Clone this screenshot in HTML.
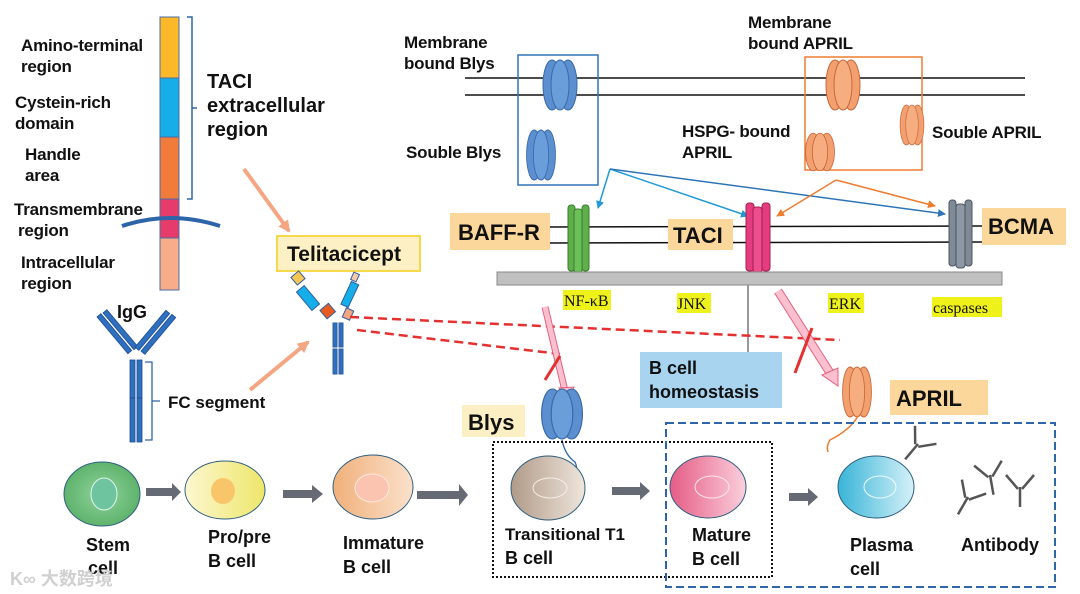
<!DOCTYPE html>
<html><head><meta charset="utf-8"><style>
body{margin:0;background:#fff}
svg{display:block}
text{font-family:"Liberation Sans",Arial,sans-serif;font-weight:bold;fill:#111}
.s{font-family:"Liberation Serif",serif;font-weight:normal}
</style></head><body>
<svg width="1080" height="594" viewBox="0 0 1080 594" xmlns="http://www.w3.org/2000/svg">
<defs>
<marker id="ab" markerWidth="8" markerHeight="8" refX="7" refY="4" orient="auto" markerUnits="userSpaceOnUse"><path d="M0,0 L8,4 L0,8 z" fill="#2e75b6"/></marker>
<marker id="ac" markerWidth="8" markerHeight="8" refX="7" refY="4" orient="auto" markerUnits="userSpaceOnUse"><path d="M0,0 L8,4 L0,8 z" fill="#1f9ad6"/></marker>
<marker id="ao" markerWidth="8" markerHeight="8" refX="7" refY="4" orient="auto" markerUnits="userSpaceOnUse"><path d="M0,0 L8,4 L0,8 z" fill="#ed7d31"/></marker>
<marker id="as" markerWidth="12" markerHeight="12" refX="10" refY="6" orient="auto" markerUnits="userSpaceOnUse"><path d="M0,0 L12,6 L0,12 z" fill="#f4a582"/></marker>
<radialGradient id="g1"><stop offset="0" stop-color="#8fd39c"/><stop offset="1" stop-color="#5fb36c"/></radialGradient>
<linearGradient id="g2"><stop offset="0" stop-color="#fdf7d0"/><stop offset="1" stop-color="#eee66a"/></linearGradient>
<linearGradient id="g3"><stop offset="0" stop-color="#f0b07a"/><stop offset="1" stop-color="#fbe1cc"/></linearGradient>
<linearGradient id="g4"><stop offset="0" stop-color="#b09a88"/><stop offset="1" stop-color="#efe6dc"/></linearGradient>
<linearGradient id="g5"><stop offset="0" stop-color="#e65c86"/><stop offset="1" stop-color="#fad0dc"/></linearGradient>
<linearGradient id="g6"><stop offset="0" stop-color="#38b5d8"/><stop offset="1" stop-color="#d6f1f8"/></linearGradient>
<g id="tb"><ellipse cx="-8" cy="0" rx="9" ry="25" fill="#5b8fd0" stroke="#3a6aa8"/><ellipse cx="8" cy="0" rx="9" ry="25" fill="#5b8fd0" stroke="#3a6aa8"/><ellipse cx="0" cy="0" rx="9" ry="25" fill="#6a9edb" stroke="#3a6aa8"/></g>
<g id="to"><ellipse cx="-8" cy="0" rx="9" ry="25" fill="#f3a070" stroke="#c8683a"/><ellipse cx="8" cy="0" rx="9" ry="25" fill="#f3a070" stroke="#c8683a"/><ellipse cx="0" cy="0" rx="9" ry="25" fill="#f6ad80" stroke="#c8683a"/></g>
<g id="ab1" fill="none" stroke="#555" stroke-width="2.5"><path d="M0,20 L0,0 M-2,2 L-14,-12 M2,2 L14,-12"/></g>
</defs>

<!-- TACI bar -->
<rect x="160" y="17" width="19" height="61" fill="#fbb829" stroke="#4a6fa5" stroke-width="1"/>
<rect x="160" y="78" width="19" height="59" fill="#15aee8" stroke="#4a6fa5" stroke-width="1"/>
<rect x="160" y="137" width="19" height="62" fill="#f07b3a" stroke="#4a6fa5" stroke-width="1"/>
<rect x="160" y="199" width="19" height="39" fill="#e53c6c" stroke="#4a6fa5" stroke-width="1"/>
<rect x="160" y="238" width="19" height="52" fill="#f7ad89" stroke="#4a6fa5" stroke-width="1"/>
<path d="M122,226 Q170,210 220,226" stroke="#2e65a8" stroke-width="4" fill="none"/>
<path d="M187,17 L192,17 L192,199 L187,199 M192,108 L197,108" stroke="#2e65a8" stroke-width="1.5" fill="none"/>
<text font-size="17" letter-spacing="-0.2"><tspan x="21" y="51">Amino-terminal</tspan><tspan x="21" y="72">region</tspan>
<tspan x="15" y="108">Cystein-rich</tspan><tspan x="15" y="129">domain</tspan>
<tspan x="25" y="160">Handle</tspan><tspan x="25" y="181">area</tspan>
<tspan x="14" y="215">Transmembrane</tspan><tspan x="18" y="236">region</tspan>
<tspan x="21" y="268">Intracellular</tspan><tspan x="21" y="289">region</tspan></text>
<text font-size="20"><tspan x="207" y="88">TACI</tspan><tspan x="207" y="112">extracellular</tspan><tspan x="207" y="136">region</tspan></text>

<!-- arrows to telitacicept -->
<line x1="244" y1="169" x2="289" y2="231" stroke="#f4a582" stroke-width="4" marker-end="url(#as)"/>
<line x1="250" y1="390" x2="308" y2="342" stroke="#f4a582" stroke-width="4" marker-end="url(#as)"/>
<rect x="277" y="236" width="143" height="35" fill="#fdf0c4" stroke="#f5d94a" stroke-width="2"/>
<text x="287" y="261" font-size="21">Telitacicept</text>

<!-- Telitacicept molecule -->
<g stroke="#2e5fa0" stroke-width="1">
<rect x="293" y="273" width="10" height="10" fill="#f6c555" transform="rotate(-40 298 278)"/>
<rect x="303" y="286" width="10" height="24" fill="#15aee8" transform="rotate(-40 308 298)"/>
<rect x="322" y="306" width="11" height="11" fill="#e85a20" transform="rotate(-40 327 311)"/>
<rect x="346" y="282" width="8" height="25" fill="#15aee8" transform="rotate(25 350 294)"/>
<rect x="344" y="309" width="8" height="10" fill="#f4a582" transform="rotate(25 348 314)"/>
<rect x="352" y="273" width="6" height="8" fill="#f8c8aa" transform="rotate(25 355 277)"/>
<rect x="333" y="323" width="4" height="24" fill="#2e6fc0"/><rect x="339" y="323" width="4" height="24" fill="#2e6fc0"/>
<rect x="333" y="349" width="4" height="25" fill="#2e6fc0"/><rect x="339" y="349" width="4" height="25" fill="#2e6fc0"/>
</g>

<!-- IgG -->
<g fill="#2e6fc0" stroke="#1d4d90" stroke-width="0.8">
<rect x="130" y="360" width="5" height="38" /><rect x="137" y="360" width="5" height="38"/>
<rect x="130" y="398" width="5" height="44"/><rect x="137" y="398" width="5" height="44"/>
<rect x="112" y="310" width="5" height="48" transform="rotate(-40 114 334)"/>
<rect x="118" y="306" width="5" height="48" transform="rotate(-40 120 330)"/>
<rect x="150" y="306" width="5" height="48" transform="rotate(40 152 330)"/>
<rect x="156" y="310" width="5" height="48" transform="rotate(40 158 334)"/>
</g>
<path d="M145,362 L152,362 L152,440 L145,440 M152,401 L160,401" stroke="#2e65a8" stroke-width="1.3" fill="none"/>
<text x="117" y="318" font-size="18">IgG</text>
<text x="168" y="408" font-size="17">FC segment</text>

<!-- top membrane -->
<line x1="465" y1="78" x2="1025" y2="78" stroke="#111" stroke-width="1.5"/>
<line x1="465" y1="95" x2="1025" y2="95" stroke="#111" stroke-width="1.5"/>
<rect x="518" y="55" width="80" height="130" fill="none" stroke="#2e75b6" stroke-width="1.5"/>
<use href="#tb" x="560" y="85"/>
<use href="#tb" transform="translate(541 155) scale(0.85 1)"/>
<rect x="805" y="57" width="117" height="113" fill="none" stroke="#ed7d31" stroke-width="1.5"/>
<use href="#to" x="843" y="85"/>
<use href="#to" transform="translate(820 152) scale(0.85 0.75)"/>
<use href="#to" transform="translate(912 125) scale(0.7 0.8)"/>
<text font-size="17" letter-spacing="-0.2"><tspan x="404" y="48">Membrane</tspan><tspan x="404" y="69">bound Blys</tspan>
<tspan x="406" y="158">Souble Blys</tspan>
<tspan x="748" y="28">Membrane</tspan><tspan x="748" y="49">bound APRIL</tspan>
<tspan x="682" y="137">HSPG- bound</tspan><tspan x="682" y="158">APRIL</tspan>
<tspan x="932" y="138">Souble APRIL</tspan></text>

<!-- ligand arrows -->
<line x1="610" y1="169" x2="598" y2="208" stroke="#1f9ad6" stroke-width="1.5" marker-end="url(#ac)"/>
<line x1="610" y1="169" x2="748" y2="216" stroke="#1f9ad6" stroke-width="1.5" marker-end="url(#ac)"/>
<line x1="610" y1="169" x2="945" y2="214" stroke="#2e75b6" stroke-width="1.5" marker-end="url(#ab)"/>
<line x1="836" y1="180" x2="777" y2="216" stroke="#ed7d31" stroke-width="1.5" marker-end="url(#ao)"/>
<line x1="836" y1="180" x2="935" y2="206" stroke="#ed7d31" stroke-width="1.5" marker-end="url(#ao)"/>

<!-- lower membrane -->
<line x1="550" y1="227" x2="985" y2="226" stroke="#111" stroke-width="1.5"/>
<line x1="550" y1="243" x2="985" y2="242" stroke="#111" stroke-width="1.5"/>
<rect x="450" y="213" width="100" height="37" fill="#fcd79b"/>
<text x="458" y="240" font-size="22">BAFF-R</text>
<rect x="668" y="219" width="65" height="31" fill="#fcd79b"/>
<text x="673" y="243" font-size="22">TACI</text>
<rect x="982" y="208" width="84" height="37" fill="#fcd79b"/>
<text x="988" y="234" font-size="22">BCMA</text>
<g stroke="#3a7a30" stroke-width="1" fill="#5fb04a"><rect x="568" y="205" width="7" height="66" rx="3"/><rect x="582" y="205" width="7" height="66" rx="3"/><rect x="574" y="209" width="8" height="64" rx="3" fill="#6cc058"/></g>
<g stroke="#a02050" stroke-width="1" fill="#e53c80"><rect x="746" y="203" width="8" height="68" rx="3"/><rect x="762" y="203" width="8" height="68" rx="3"/><rect x="753" y="207" width="9" height="66" rx="3" fill="#ee4d8e"/></g>
<g stroke="#4a5560" stroke-width="1" fill="#808a96"><rect x="949" y="200" width="7" height="66" rx="3"/><rect x="965" y="200" width="7" height="66" rx="3"/><rect x="956" y="204" width="9" height="64" rx="3" fill="#8e98a4"/></g>
<path d="M497,272 L1002,272 L1002,285 L497,285 Z" fill="#c0c0c0" stroke="#888"/>
<line x1="748" y1="285" x2="748" y2="352" stroke="#999" stroke-width="2"/>
<rect x="563" y="290" width="48" height="20" fill="#eef21a"/><text class="s" x="564" y="306" font-size="16">NF-κB</text>
<rect x="677" y="293" width="34" height="20" fill="#eef21a"/><text class="s" x="677" y="309" font-size="16">JNK</text>
<rect x="828" y="293" width="36" height="20" fill="#eef21a"/><text class="s" x="829" y="309" font-size="16">ERK</text>
<rect x="932" y="297" width="70" height="20" fill="#eef21a"/><text class="s" x="933" y="313" font-size="16">caspases</text>
<rect x="640" y="352" width="142" height="56" fill="#a9d4f0"/>
<text font-size="18"><tspan x="649" y="374">B cell</tspan><tspan x="649" y="398">homeostasis</tspan></text>

<!-- dashed red -->
<line x1="350" y1="317" x2="840" y2="340" stroke="#e53030" stroke-width="2.5" stroke-dasharray="9,5"/>
<line x1="357" y1="330" x2="560" y2="354" stroke="#e53030" stroke-width="2.5" stroke-dasharray="9,5"/>
<!-- pink arrows -->
<line x1="545" y1="307" x2="566" y2="395" stroke="#e8607e" stroke-width="7"/>
<line x1="545" y1="307" x2="566" y2="395" stroke="#fbc0cf" stroke-width="5"/>
<path d="M559,388 L567,402 L574,387 Z" fill="#fbc0cf" stroke="#e8607e"/>
<line x1="778" y1="291" x2="832" y2="376" stroke="#e8607e" stroke-width="9"/>
<line x1="778" y1="291" x2="832" y2="376" stroke="#fbc0cf" stroke-width="7"/>
<path d="M822,375 L838,386 L838,368 Z" fill="#fbc0cf" stroke="#e8607e"/>
<line x1="545" y1="380" x2="560" y2="356" stroke="#e53030" stroke-width="3"/>
<line x1="795" y1="373" x2="812" y2="328" stroke="#e53030" stroke-width="3"/>

<!-- APRIL / Blys -->
<use href="#to" transform="translate(857 392) scale(0.85 1)"/>
<path d="M858,416 Q850,430 830,440 Q826,446 828,452" stroke="#ed7d31" stroke-width="1.5" fill="none"/>
<rect x="890" y="380" width="98" height="35" fill="#fcd79b"/>
<text x="896" y="406" font-size="22">APRIL</text>
<use href="#tb" transform="translate(562 414) scale(1.2 1)"/>
<path d="M562,440 Q565,455 575,462 Q578,468 575,474" stroke="#2e65a8" stroke-width="1.3" fill="none"/>
<rect x="462" y="405" width="63" height="32" fill="#fdefc4"/>
<text x="468" y="430" font-size="22">Blys</text>

<!-- boxes -->
<rect x="493" y="442" width="279" height="135" fill="none" stroke="#111" stroke-width="2" stroke-dasharray="2,2"/>
<rect x="666" y="423" width="389" height="164" fill="none" stroke="#2e65a8" stroke-width="2" stroke-dasharray="8,4"/>

<!-- cells -->
<ellipse cx="102" cy="494" rx="38" ry="32" fill="url(#g1)" stroke="#2e5f80"/>
<ellipse cx="104" cy="494" rx="13" ry="16" fill="#6fc4a0" stroke="#e0f5ea"/>
<ellipse cx="225" cy="490" rx="40" ry="29" fill="url(#g2)" stroke="#2e5f80"/>
<ellipse cx="223" cy="491" rx="12" ry="13" fill="#f9c56a"/>
<ellipse cx="373" cy="487" rx="40" ry="32" fill="url(#g3)" stroke="#2e5f80"/>
<ellipse cx="372" cy="488" rx="17" ry="14" fill="#fbc4b0" stroke="#fde8de"/>
<ellipse cx="548" cy="488" rx="37" ry="32" fill="url(#g4)" stroke="#2e5f80"/>
<ellipse cx="550" cy="488" rx="17" ry="10" fill="none" stroke="#f5eee8"/>
<ellipse cx="708" cy="487" rx="38" ry="31" fill="url(#g5)" stroke="#2e5f80"/>
<ellipse cx="712" cy="487" rx="17" ry="11" fill="none" stroke="#fde8ee"/>
<ellipse cx="876" cy="487" rx="38" ry="31" fill="url(#g6)" stroke="#2e5f80"/>
<ellipse cx="880" cy="487" rx="16" ry="11" fill="none" stroke="#eefaff"/>
<g fill="#666a74">
<path d="M146,488 L172,488 L172,483 L181,492 L172,501 L172,496 L146,496 Z"/>
<path d="M283,490 L312,490 L312,485 L323,494 L312,503 L312,498 L283,498 Z"/>
<path d="M417,491 L459,491 L459,484 L468,495 L459,506 L459,499 L417,499 Z"/>
<path d="M612,487 L640,487 L640,482 L650,491 L640,500 L640,495 L612,495 Z"/>
<path d="M789,493 L808,493 L808,488 L818,497 L808,506 L808,501 L789,501 Z"/>
</g>
<use href="#ab1" transform="translate(918 444) rotate(40)"/>
<use href="#ab1" transform="translate(990 475) rotate(-10)"/>
<use href="#ab1" transform="translate(968 497) rotate(30)"/>
<use href="#ab1" transform="translate(1020 487)"/>

<text font-size="18"><tspan x="86" y="551">Stem</tspan><tspan x="88" y="574">cell</tspan>
<tspan x="208" y="543">Pro/pre</tspan><tspan x="208" y="567">B cell</tspan>
<tspan x="343" y="549">Immature</tspan><tspan x="343" y="573">B cell</tspan>
<tspan x="505" y="540" font-size="17">Transitional T1</tspan><tspan x="505" y="564">B cell</tspan>
<tspan x="692" y="541">Mature</tspan><tspan x="692" y="565">B cell</tspan>
<tspan x="850" y="551">Plasma</tspan><tspan x="850" y="575">cell</tspan>
<tspan x="961" y="551">Antibody</tspan></text>
<text x="10" y="585" font-size="18" fill="#ccc" style="fill:#d0d0d0;font-family:'Liberation Sans','Noto Sans CJK SC',sans-serif">K∞ 大数跨境</text>
</svg>
</body></html>
